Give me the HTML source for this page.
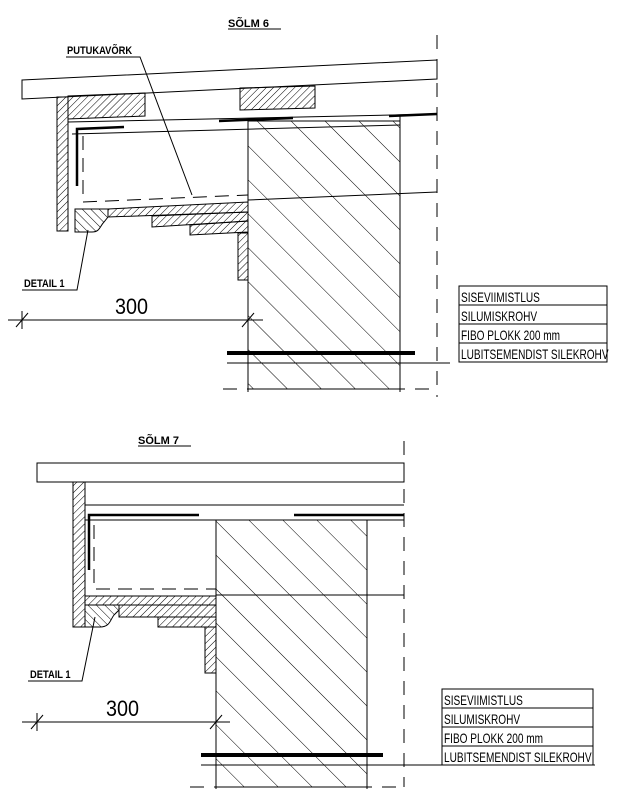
<!DOCTYPE html>
<html><head><meta charset="utf-8"><style>
html,body{margin:0;padding:0;background:#fff}
svg{display:block}
text{font-family:"Liberation Sans",sans-serif;fill:#000}
.lbl{font-size:11px;font-weight:bold}
.lg{font-size:14px}
</style></head><body>
<svg width="617" height="797" viewBox="0 0 617 797" xmlns="http://www.w3.org/2000/svg">
<defs>
<pattern id="h" width="5" height="5" patternUnits="userSpaceOnUse" patternTransform="rotate(45)">
<line x1="0" y1="0" x2="0" y2="5" stroke="#000" stroke-width="1"/></pattern>
<pattern id="hb" width="6" height="6" patternUnits="userSpaceOnUse" patternTransform="rotate(-45)">
<line x1="0" y1="0" x2="0" y2="6" stroke="#000" stroke-width="1"/></pattern>
<pattern id="m" width="24" height="24" patternUnits="userSpaceOnUse" patternTransform="rotate(-45)">
<line x1="0" y1="0" x2="0" y2="24" stroke="#000" stroke-width="1"/></pattern>
</defs>
<g stroke="#000" fill="none" stroke-width="1">
<!-- ============ SÖLM 6 ============ -->
<line x1="228" y1="29" x2="281" y2="29"/>
<line x1="437" y1="35" x2="437" y2="397" stroke-dasharray="14,10"/>
<polygon points="22,80 437,60 437,79 22,99" fill="#fff"/>
<rect x="248" y="121" width="152" height="268" fill="url(#m)"/>
<line x1="248" y1="121" x2="248" y2="392"/>
<line x1="400" y1="116" x2="400" y2="392"/>
<line x1="68" y1="122" x2="437" y2="114"/>
<line x1="219" y1="121" x2="293" y2="118" stroke-width="2.5"/>
<line x1="389" y1="116" x2="437" y2="114" stroke-width="2.5"/>
<polygon points="57,97 68,97 68,231 57,231" fill="url(#h)"/>
<polygon points="68,96 145,93 145,116 68,119" fill="url(#h)"/>
<polygon points="240,88 315,86 315,108 240,110" fill="url(#h)"/>
<polyline points="77,186 77,129 124,127" stroke-width="2.5"/>
<line x1="72" y1="134" x2="400" y2="125"/>
<polyline points="83,136 83,202 248,195" stroke-dasharray="14,8"/>
<line x1="248" y1="200" x2="437" y2="192"/>
<polygon points="108,209 248,202 248,212 108,217" fill="url(#h)"/>
<path d="M75,209 L108,209 L108,217 L104,222 C100,226 100,232 92,232 L75,232 Z" fill="url(#hb)"/>
<polygon points="152,216 248,212 248,221 152,227" fill="url(#h)"/>
<polygon points="190,225 248,221 248,232 190,235" fill="url(#h)"/>
<rect x="238" y="233" width="10" height="47" fill="url(#h)"/>
<polyline points="66,57 140,57 192,195"/>
<polyline points="22,290 77,290 88,230"/>
<line x1="8" y1="320" x2="263" y2="320"/>
<line x1="16" y1="327" x2="28" y2="313"/><line x1="22" y1="311" x2="22" y2="329"/>
<line x1="242" y1="327" x2="254" y2="313"/><line x1="248" y1="311" x2="248" y2="329"/>
<line x1="227" y1="353" x2="415" y2="353" stroke-width="4"/>
<line x1="227" y1="363" x2="450" y2="363"/>
<line x1="223" y1="389" x2="437" y2="389" stroke-dasharray="14,10"/>
<rect x="459" y="286" width="148" height="76" fill="#fff"/>
<line x1="459" y1="305" x2="607" y2="305"/><line x1="459" y1="324" x2="607" y2="324"/><line x1="459" y1="343" x2="607" y2="343"/>
<!-- ============ SÖLM 7 ============ -->
<line x1="138" y1="446" x2="191" y2="446"/>
<line x1="404" y1="441" x2="404" y2="787" stroke-dasharray="14,10"/>
<rect x="216" y="520" width="151" height="267" fill="url(#m)"/>
<line x1="216" y1="520" x2="216" y2="789"/>
<line x1="367" y1="520" x2="367" y2="789"/>
<rect x="37" y="463" width="367" height="19" fill="#fff"/>
<rect x="73" y="482" width="12" height="145" fill="url(#h)"/>
<line x1="85" y1="505" x2="404" y2="505"/>
<line x1="85" y1="520" x2="404" y2="520"/>
<polyline points="89,570 89,515 199,515" stroke-width="2.5"/>
<line x1="294" y1="515" x2="404" y2="515" stroke-width="2.5"/>
<polyline points="94,525 94,589 216,589" stroke-dasharray="14,8"/>
<line x1="216" y1="595" x2="404" y2="595"/>
<rect x="85" y="596" width="131" height="9" fill="url(#h)"/>
<path d="M85,605 L119,605 L119,610 L114,615 C110,620 110,627 100,627 L85,627 Z" fill="url(#hb)"/>
<rect x="119" y="605" width="97" height="12" fill="url(#h)"/>
<rect x="158" y="617" width="58" height="10" fill="url(#h)"/>
<rect x="205" y="627" width="11" height="46" fill="url(#h)"/>
<polyline points="28,681 82,681 95,617"/>
<line x1="22" y1="722" x2="230" y2="722"/>
<line x1="31" y1="729" x2="43" y2="715"/><line x1="37" y1="713" x2="37" y2="731"/>
<line x1="210" y1="729" x2="222" y2="715"/><line x1="216" y1="713" x2="216" y2="731"/>
<line x1="201" y1="755" x2="383" y2="755" stroke-width="4"/>
<line x1="201" y1="765" x2="595" y2="765"/>
<line x1="190" y1="787" x2="404" y2="787" stroke-dasharray="14,10"/>
<rect x="442" y="689" width="151" height="76" fill="#fff"/>
<line x1="442" y1="708" x2="593" y2="708"/><line x1="442" y1="727" x2="593" y2="727"/><line x1="442" y1="746" x2="593" y2="746"/>
</g>
<!-- texts -->
<text x="228" y="27" class="lbl" font-size="12">SÕLM 6</text>
<text x="67" y="54" class="lbl" transform="translate(67,0) scale(0.85,1) translate(-67,0)">PUTUKAVÕRK</text>
<text x="24" y="287" class="lbl" transform="translate(24,0) scale(0.85,1) translate(-24,0)">DETAIL 1</text>
<text x="115" y="314" font-size="22" font-weight="300" transform="translate(115,0) scale(0.9,1) translate(-115,0)">300</text>
<g transform="translate(461,0) scale(0.72,1) translate(-461,0)">
<text x="461" y="302" class="lg">SISEVIIMISTLUS</text>
<text x="461" y="321" class="lg">SILUMISKROHV</text>
<text x="461" y="340" class="lg">FIBO PLOKK 200 mm</text>
<text x="461" y="359" class="lg">LUBITSEMENDIST SILEKROHV</text>
</g>
<text x="138" y="444" class="lbl" font-size="12">SÕLM 7</text>
<text x="30" y="678" class="lbl" transform="translate(30,0) scale(0.85,1) translate(-30,0)">DETAIL 1</text>
<text x="106" y="716" font-size="22" font-weight="300" transform="translate(106,0) scale(0.9,1) translate(-106,0)">300</text>
<g transform="translate(444,0) scale(0.72,1) translate(-444,0)">
<text x="444" y="705" class="lg">SISEVIIMISTLUS</text>
<text x="444" y="724" class="lg">SILUMISKROHV</text>
<text x="444" y="743" class="lg">FIBO PLOKK 200 mm</text>
<text x="444" y="762" class="lg">LUBITSEMENDIST SILEKROHV</text>
</g>
</svg>
</body></html>
